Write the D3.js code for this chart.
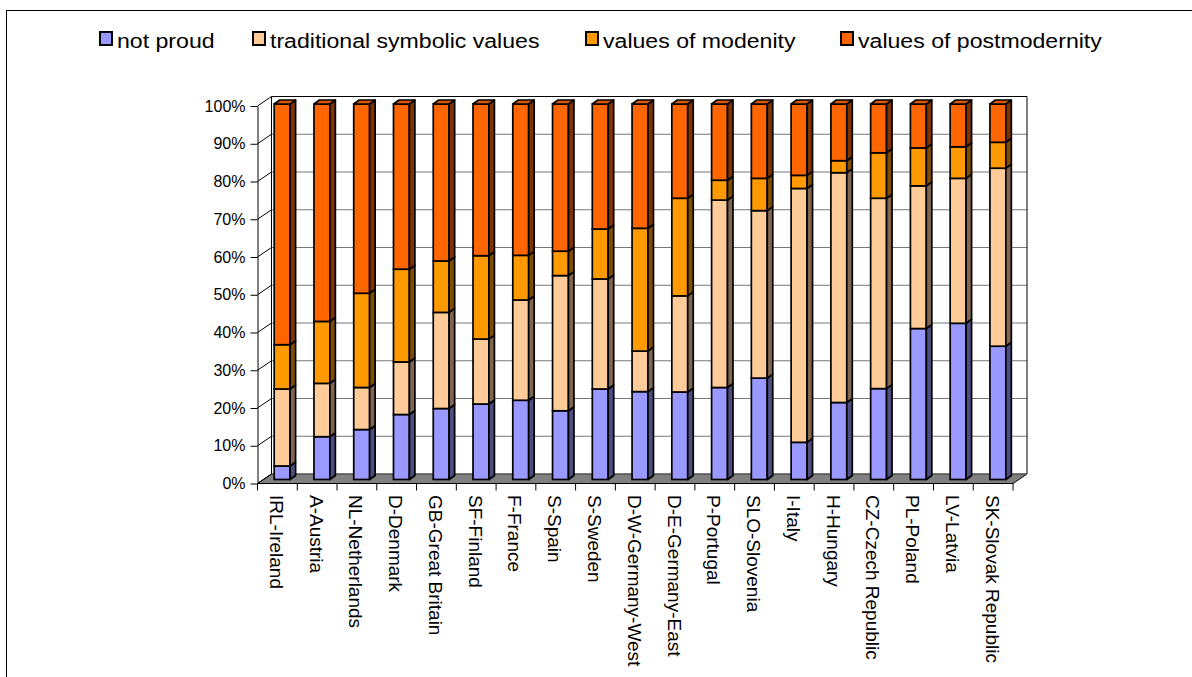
<!DOCTYPE html>
<html lang="en">
<head>
<meta charset="UTF-8">
<title>National pride</title>
<script src="https://d3js.org/d3.v7.min.js"></script>
<style>
  body { margin: 0; background: #fff; }
  text { font-family: "Liberation Sans", Arial, sans-serif; fill: #000; }
</style>
</head>
<body>
<svg id="chart" width="1192" height="677"></svg>
<script>
// data (shares in %)
var countries = ["IRL-Ireland", "A-Austria", "NL-Netherlands", "D-Denmark", "GB-Great Britain",
  "SF-Finland", "F-France", "S-Spain", "S-Sweden", "D-W-Germany-West", "D-E-Germany-East",
  "P-Portugal", "SLO-Slovenia", "I-Italy", "H-Hungary", "CZ-Czech Republic", "PL-Poland",
  "LV-Latvia", "SK-Slovak Republic"];
var seriesNames = ["not proud", "traditional symbolic values", "values of modenity", "values of postmodernity"];
var notProud     = [3.6, 11.4, 13.3, 17.3, 18.9, 20.1, 21.1, 18.3, 24.1, 23.4, 23.3, 24.5, 27.0, 9.9, 20.5, 24.2, 40.2, 41.6, 35.5];
var traditional  = [20.5, 14.2, 11.2, 14.0, 25.6, 17.3, 26.7, 36.0, 29.3, 10.8, 25.6, 49.9, 44.6, 67.6, 61.2, 50.7, 38.0, 38.6, 47.4];
var modernity    = [11.8, 16.5, 25.1, 24.7, 13.7, 22.2, 11.9, 6.5, 13.3, 32.7, 26.0, 5.3, 8.6, 3.5, 3.2, 12.1, 10.1, 8.4, 6.9];
var postmodern   = [64.1, 57.9, 50.4, 44.0, 41.8, 40.4, 40.3, 39.2, 33.3, 33.1, 25.1, 20.3, 19.8, 19.0, 15.1, 13.0, 11.7, 11.4, 10.2];
var yTicks = [0, 0.1, 0.2, 0.3, 0.4, 0.5, 0.6, 0.7, 0.8, 0.9, 1];

var colors = ["#9999ff", "#ffcc99", "#ff9900", "#ff6600"];
var sideColors = ["#4d4d80", "#806650", "#804c00", "#803300"];

var svg = d3.select("#chart");

// outer frame
svg.append("rect").attr("x", 6.5).attr("y", 10.5).attr("width", 1200).attr("height", 700)
  .attr("fill", "#fff").attr("stroke", "#000").attr("stroke-width", 1);

// geometry of the 3d box
var DX = 14, DY = -9.5;
var x = d3.scaleBand().domain(countries).range([257.5, 1013]);
var y = d3.scaleLinear().domain([0, 1]).range([483.5, 106]);
var yBar = d3.scaleLinear().domain([0, 100]).range([479.5, 104]);

var x0 = x.range()[0], x1 = x.range()[1];

// floor
svg.append("path")
  .attr("d", `M${x0},${y(0)}L${x1},${y(0)}L${x1 + DX},${y(0) + DY}L${x0 + DX},${y(0) + DY}Z`)
  .attr("fill", "#808080").attr("stroke", "#000").attr("stroke-width", 1);

// back wall gridlines
svg.append("g").selectAll("line").data(yTicks).enter().append("line")
  .attr("x1", x0 + DX).attr("x2", x1 + DX)
  .attr("y1", d => y(d) + DY).attr("y2", d => y(d) + DY)
  .attr("stroke", d => d === 1 ? "#000" : "#777").attr("stroke-width", 1);

// side wall gridlines (diagonals)
svg.append("g").selectAll("line").data(yTicks).enter().append("line")
  .attr("x1", x0).attr("x2", x0 + DX)
  .attr("y1", d => y(d)).attr("y2", d => y(d) + DY)
  .attr("stroke", "#000").attr("stroke-width", 1);

// wall edges
svg.append("line").attr("x1", x0 + DX).attr("x2", x0 + DX).attr("y1", y(1) + DY).attr("y2", y(0) + DY)
  .attr("stroke", "#000");
svg.append("line").attr("x1", x1 + DX).attr("x2", x1 + DX).attr("y1", y(1) + DY).attr("y2", y(0) + DY)
  .attr("stroke", "#000");

// y axis
var yAxis = svg.append("g").attr("transform", `translate(${x0},0)`)
  .call(d3.axisLeft(y).tickValues(yTicks).tickFormat(d3.format(".0%")).tickSize(7).tickSizeOuter(0).tickPadding(5));
yAxis.selectAll("text").attr("font-size", 16).attr("font-family", "Liberation Sans, Arial, sans-serif");
yAxis.selectAll("line, path").attr("stroke", "#000");

// x axis: ticks at category boundaries, labels rotated
var bounds = countries.map(c => x(c)).concat([x1]);
svg.append("g").selectAll("line").data(bounds).enter().append("line")
  .attr("x1", d => d).attr("x2", d => d).attr("y1", y(0)).attr("y2", y(0) + 7)
  .attr("stroke", "#000");
svg.append("g").selectAll("text").data(countries).enter().append("text")
  .attr("transform", d => `translate(${x(d) + x.bandwidth() / 2 - 1},495) rotate(90)`)
  .attr("dominant-baseline", "central")
  .attr("font-size", 19)
  .text(d => d);

// stacked 3d bars
var table = countries.map((c, i) => ({ country: c, vals: [notProud[i], traditional[i], modernity[i], postmodern[i]] }));
var bw = x.bandwidth() * 0.4, bo = x.bandwidth() * 0.42;
var bdx = 5.5, bdy = -4;

table.forEach(function (row) {
  var g = svg.append("g");
  var bx = x(row.country) + bo;
  var acc = 0;
  row.vals.forEach(function (v, k) {
    var yb = yBar(acc), yt = yBar(acc + v);
    acc += v;
    // front
    g.append("rect").attr("x", bx).attr("y", yt).attr("width", bw).attr("height", yb - yt)
      .attr("fill", colors[k]).attr("stroke", "#000").attr("stroke-width", 1.7);
    // side
    g.append("path")
      .attr("d", `M${bx + bw},${yb}L${bx + bw + bdx},${yb + bdy}L${bx + bw + bdx},${yt + bdy}L${bx + bw},${yt}Z`)
      .attr("fill", sideColors[k]).attr("stroke", "#000").attr("stroke-width", 1.7).attr("stroke-linejoin", "round");
    if (k === row.vals.length - 1) {
      g.append("path")
        .attr("d", `M${bx},${yt}L${bx + bdx},${yt + bdy}L${bx + bw + bdx},${yt + bdy}L${bx + bw},${yt}Z`)
        .attr("fill", d3.color(colors[k]).darker(0.4)).attr("stroke", "#000").attr("stroke-width", 1.7)
        .attr("stroke-linejoin", "round");
    }
  });
});

// legend
var legendX = [99, 252, 585, 840];
var legend = svg.append("g").selectAll("g").data(seriesNames).enter().append("g")
  .attr("transform", (d, i) => `translate(${legendX[i]},31)`);
legend.append("rect").attr("x", 1).attr("y", 1).attr("width", 12).attr("height", 13)
  .attr("fill", (d, i) => colors[i]).attr("stroke", "#000").attr("stroke-width", 2);
legend.append("text")
  .attr("transform", "translate(18,16.5) scale(1.1,1)")
  .attr("font-size", 21)
  .text(d => d);
</script>
</body>
</html>
